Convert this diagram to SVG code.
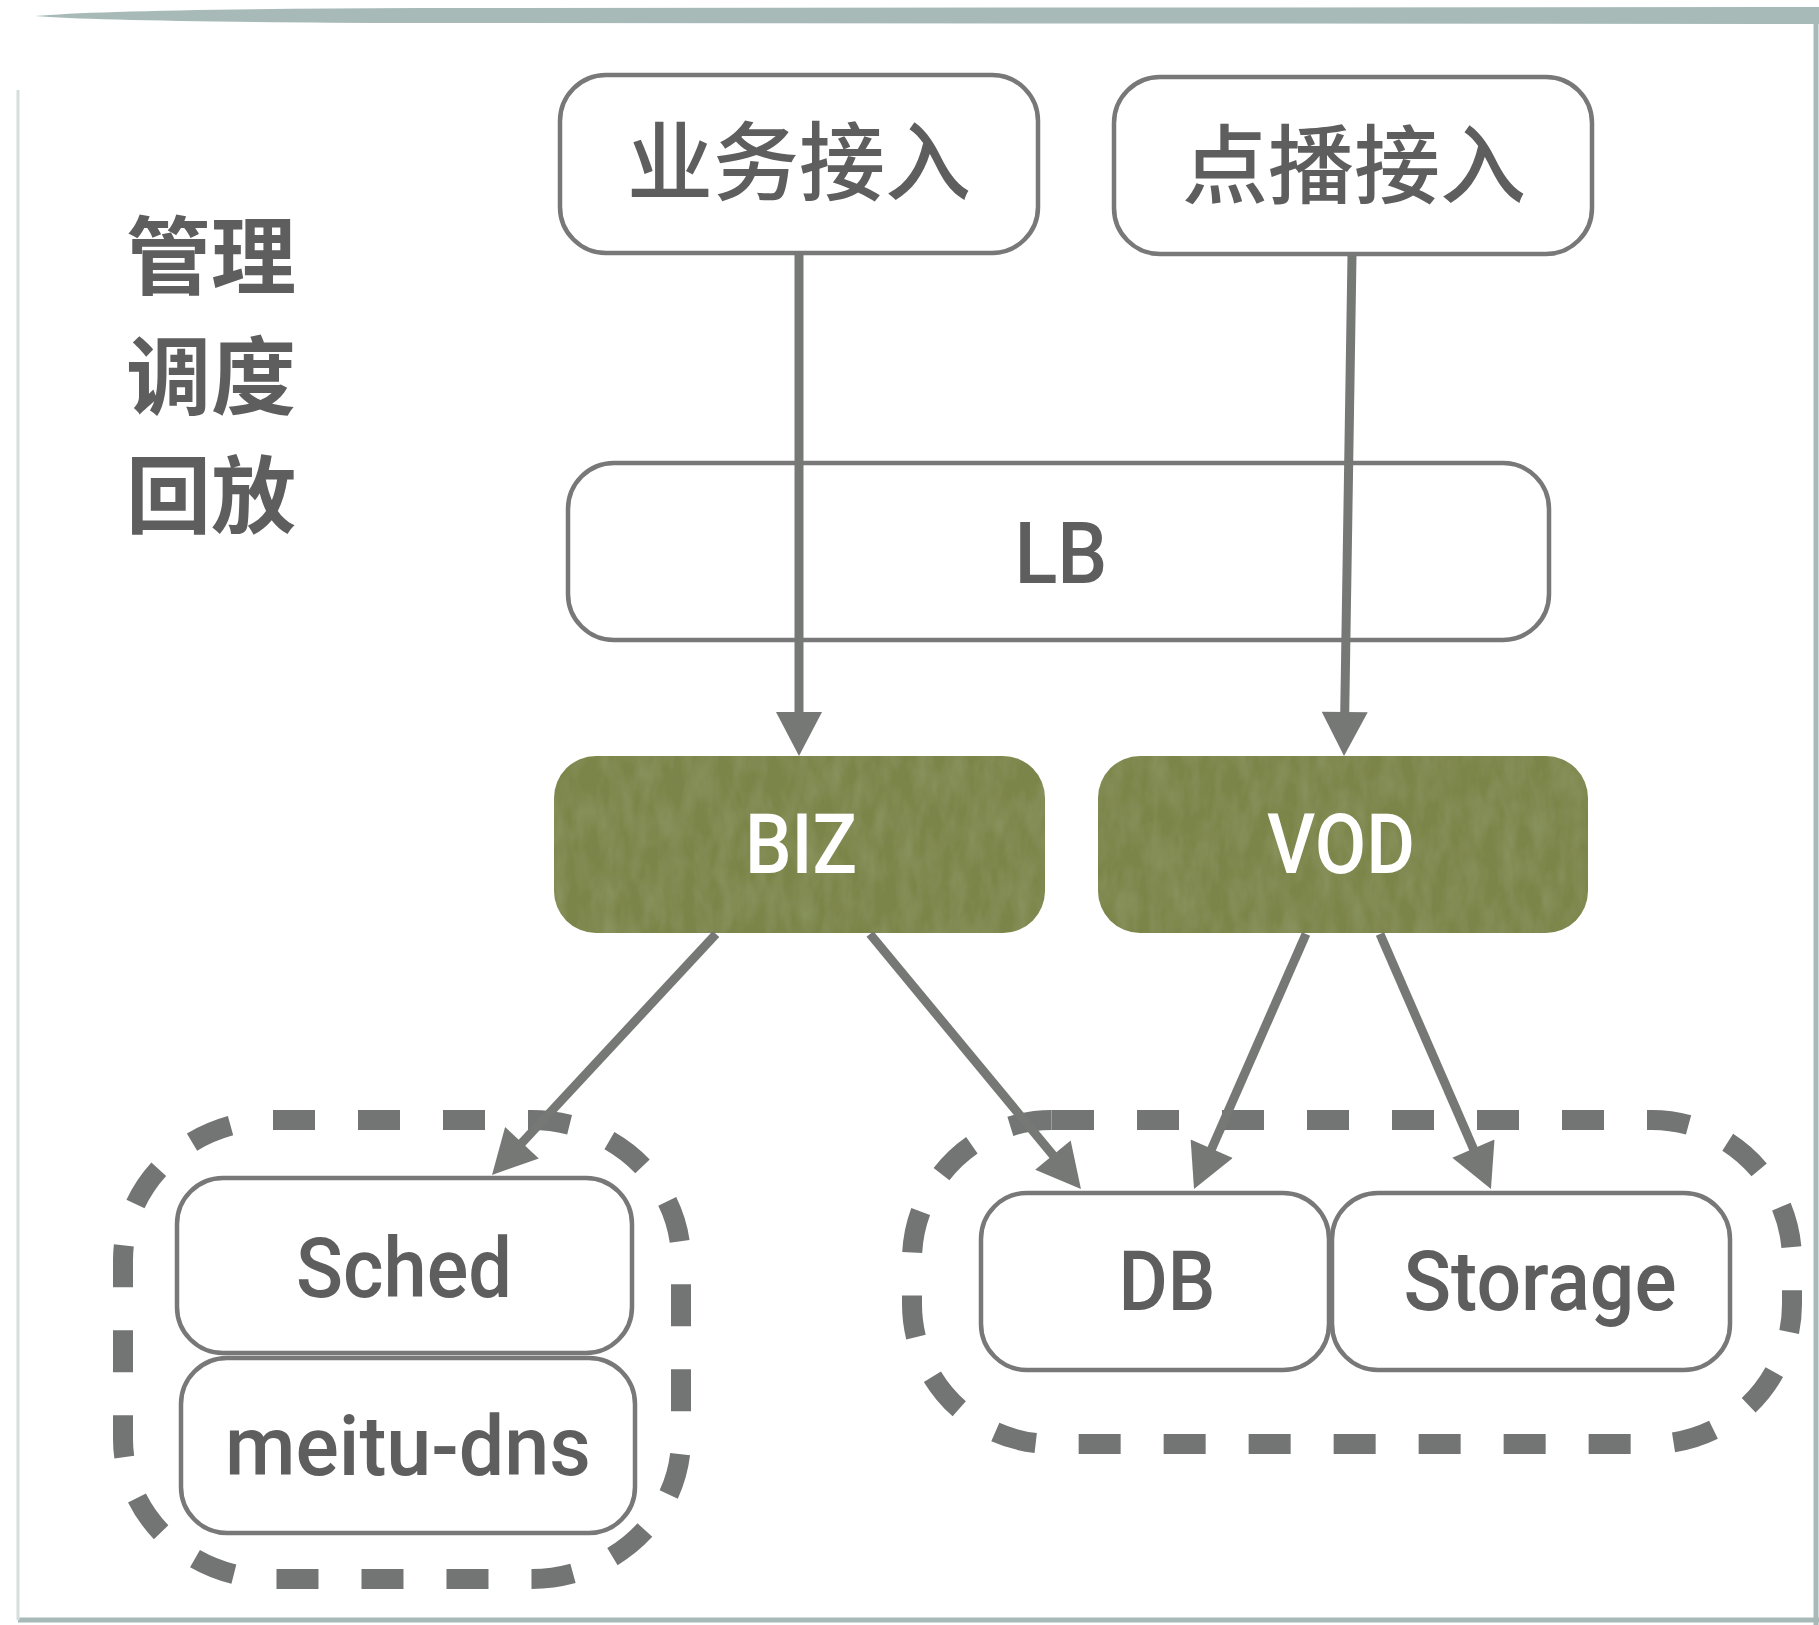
<svg xmlns="http://www.w3.org/2000/svg" width="1819" height="1625" viewBox="0 0 1819 1625">
  <style>
    .box { fill: #ffffff; stroke: #777877; stroke-width: 4.5; }
    .svc { fill: #7b8549; filter: url(#grain); }
    .grp { fill: none; stroke: #737574; stroke-width: 20; stroke-dasharray: 42 43; }
    .cjk { font-family: "Noto Sans CJK SC", "Noto Sans", sans-serif; fill: #5e5e5e; text-anchor: middle; }
    .lat { font-family: Roboto, "Liberation Sans", sans-serif; font-weight: 500; fill: #5e5e5e; text-anchor: middle; }
    .wht { fill: #ffffff; }
    .edge { fill: none; stroke: #767876; stroke-width: 9; marker-end: url(#arrow); }
    .frame { fill: none; stroke: #a7bab8; }
  </style>
  <defs>
    <marker id="arrow" markerUnits="userSpaceOnUse" markerWidth="46" markerHeight="46" viewBox="0 0 44 46" refX="2" refY="23" orient="auto">
      <path d="M0,0 L44,23 L0,46 Z" fill="#767876"/>
    </marker>
    <filter id="grain" x="0" y="0" width="100%" height="100%">
      <feTurbulence type="fractalNoise" baseFrequency="0.06 0.025" numOctaves="3" seed="4" result="n"/>
      <feColorMatrix in="n" type="matrix" values="0 0 0 0 0.6  0 0 0 0 0.66  0 0 0 0 0.42  0 0 0 0.22 -0.07" result="c"/>
      <feComposite in="c" in2="SourceAlpha" operator="in" result="t"/>
      <feMerge><feMergeNode in="SourceGraphic"/><feMergeNode in="t"/></feMerge>
    </filter>
  </defs>

  <rect x="0" y="0" width="1819" height="1625" fill="#ffffff"/>

  <g id="frame">
    <path d="M35,16 Q110,9 420,8 L1819,7 L1819,24 L420,23 Q110,22 35,16 Z" fill="#a7bab8"/>
    <line class="frame" x1="1816" y1="7" x2="1816" y2="1625" stroke-width="5"/>
    <line class="frame" x1="18" y1="1620" x2="1819" y2="1620" stroke-width="5"/>
    <line x1="18" y1="90" x2="18" y2="1620" stroke="#d5dfde" stroke-width="3"/>
  </g>

  <g id="title">
    <text class="cjk" font-size="85" font-weight="700" x="211" y="288">管理</text>
    <text class="cjk" font-size="85" font-weight="700" x="211" y="408">调度</text>
    <text class="cjk" font-size="85" font-weight="700" x="211" y="527">回放</text>
  </g>

  <g id="group-sched">
    <rect class="grp" x="123" y="1120" width="558" height="459" rx="150" ry="140"/>
  </g>
  <g id="group-store">
    <rect class="grp" x="912" y="1120" width="880" height="324" rx="140" ry="140"/>
  </g>

  <g id="node-biz-access">
    <rect class="box" x="560" y="75" width="478" height="178" rx="46"/>
    <text class="cjk" font-size="86" font-weight="500" x="799" y="194">业务接入</text>
  </g>
  <g id="node-vod-access">
    <rect class="box" x="1114" y="77" width="478" height="177" rx="46"/>
    <text class="cjk" font-size="86" font-weight="500" x="1354" y="197">点播接入</text>
  </g>
  <g id="node-lb">
    <rect class="box" x="568" y="463" width="981" height="177" rx="46"/>
    <text class="lat" font-size="86" x="1061" y="583" textLength="93" lengthAdjust="spacingAndGlyphs">LB</text>
  </g>
  <g id="node-biz">
    <rect class="svc" x="554" y="756" width="491" height="177" rx="42"/>
    <text class="lat wht" font-size="84" x="801" y="873" textLength="112" lengthAdjust="spacingAndGlyphs">BIZ</text>
  </g>
  <g id="node-vod">
    <rect class="svc" x="1098" y="756" width="490" height="177" rx="42"/>
    <text class="lat wht" font-size="84" x="1341" y="873" textLength="148" lengthAdjust="spacingAndGlyphs">VOD</text>
  </g>
  <g id="node-sched">
    <rect class="box" x="177" y="1178" width="455" height="175" rx="46"/>
    <text class="lat" font-size="84" x="404" y="1297" textLength="216" lengthAdjust="spacingAndGlyphs">Sched</text>
  </g>
  <g id="node-dns">
    <rect class="box" x="181" y="1358" width="454" height="175" rx="46"/>
    <text class="lat" font-size="84" x="408" y="1475" textLength="366" lengthAdjust="spacingAndGlyphs">meitu-dns</text>
  </g>
  <g id="node-db">
    <rect class="box" x="981" y="1193" width="348" height="177" rx="46"/>
    <text class="lat" font-size="84" x="1167" y="1310" textLength="97" lengthAdjust="spacingAndGlyphs">DB</text>
  </g>
  <g id="node-storage">
    <rect class="box" x="1332" y="1193" width="398" height="177" rx="46"/>
    <text class="lat" font-size="84" x="1540" y="1310" textLength="273" lengthAdjust="spacingAndGlyphs">Storage</text>
  </g>

  <g id="connectors">
    <line class="edge" x1="799" y1="253" x2="799" y2="714"/>
    <line class="edge" x1="1352" y1="255" x2="1344.7" y2="714"/>
    <line class="edge" x1="716" y1="934" x2="520.6" y2="1144.2"/>
    <line class="edge" x1="870" y1="934" x2="1054.2" y2="1156.7"/>
    <line class="edge" x1="1306" y1="934" x2="1210.9" y2="1150.5"/>
    <line class="edge" x1="1380" y1="934" x2="1474.2" y2="1150.5"/>
  </g>
</svg>
